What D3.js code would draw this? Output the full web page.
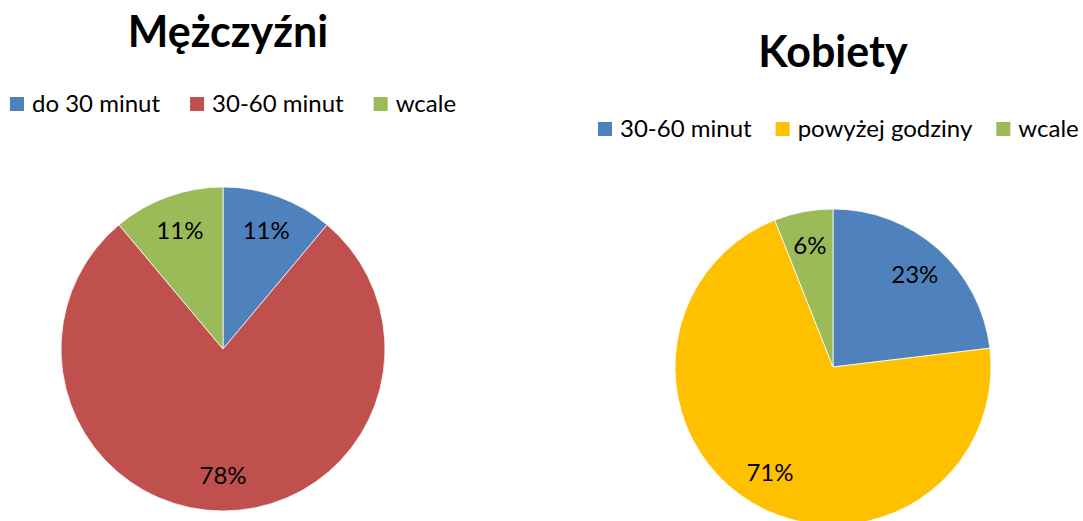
<!DOCTYPE html>
<html>
<head>
<meta charset="utf-8">
<script src="https://cdn.jsdelivr.net/npm/d3@7"></script>
<style>
  body { margin: 0; background: #fff; }
  svg { display: block; font-family: Lato, 'Open Sans', sans-serif; }
</style>
</head>
<body>
<svg id="chart" width="1083" height="521"></svg>
<script>
// men
const menCategories = ['do 30 minut', '30-60 minut', 'wcale'];
const menValues = [11.1, 77.8, 11.1];
const menLabels = ['11%', '78%', '11%'];

// women
const womenCategories = ['30-60 minut', 'powyżej godziny', 'wcale'];
const womenValues = [23.1, 70.9, 6.0];
const womenLabels = ['23%', '71%', '6%'];

const menColors = ['#4F81BD', '#C0504D', '#9BBB59'];
const womenColors = ['#4F81BD', '#FFC000', '#9BBB59'];

const svg = d3.select('#chart');

function drawPie(cfg) {
  const g = svg.append('g');

  g.append('text')
    .attr('x', cfg.titleX)
    .attr('y', cfg.titleY)
    .attr('text-anchor', 'middle')
    .style('font-size', cfg.titleSize + 'px')
    .style('font-weight', 'bold')
    .text(cfg.title);

  // legend
  const legend = g.append('g')
    .attr('transform', `translate(${cfg.legendX}, ${cfg.legendY})`);
  let lx = 0;
  cfg.categories.forEach((c, i) => {
    legend.append('rect')
      .attr('x', lx).attr('y', -15)
      .attr('width', 14).attr('height', 14)
      .attr('fill', cfg.colors[i]);
    const t = legend.append('text')
      .attr('x', lx + 22).attr('y', 0)
      .style('font-size', '24px')
      .text(c);
    lx += 22 + t.node().getComputedTextLength() + cfg.legendGap;
  });

  const pie = d3.pie().sort(null).value(d => d)(cfg.values);
  const arc = d3.arc().innerRadius(0).outerRadius(cfg.r);
  const labelArc = d3.arc().innerRadius(cfg.r * 0.78).outerRadius(cfg.r * 0.78);

  const pg = g.append('g')
    .attr('transform', `translate(${cfg.cx}, ${cfg.cy})`);

  pg.selectAll('path')
    .data(pie)
    .enter()
    .append('path')
    .attr('d', arc)
    .attr('fill', (d, i) => cfg.colors[i])
    .attr('stroke', '#fff')
    .attr('stroke-width', 0.75);

  pg.selectAll('text.lbl')
    .data(pie)
    .enter()
    .append('text')
    .attr('class', 'lbl')
    .attr('transform', d => `translate(${labelArc.centroid(d)})`)
    .attr('text-anchor', 'middle')
    .attr('dy', '0.35em')
    .style('font-size', '24px')
    .text((d, i) => cfg.labels[i]);
}

drawPie({
  title: 'Mężczyźni', titleX: 228, titleY: 47, titleSize: 43,
  categories: menCategories, values: menValues, labels: menLabels, colors: menColors,
  legendX: 10, legendY: 112, legendGap: 30,
  cx: 223, cy: 349, r: 162
});

drawPie({
  title: 'Kobiety', titleX: 833, titleY: 67, titleSize: 43,
  categories: womenCategories, values: womenValues, labels: womenLabels, colors: womenColors,
  legendX: 598, legendY: 137, legendGap: 24,
  cx: 833, cy: 367, r: 158
});
</script>
</body>
</html>
